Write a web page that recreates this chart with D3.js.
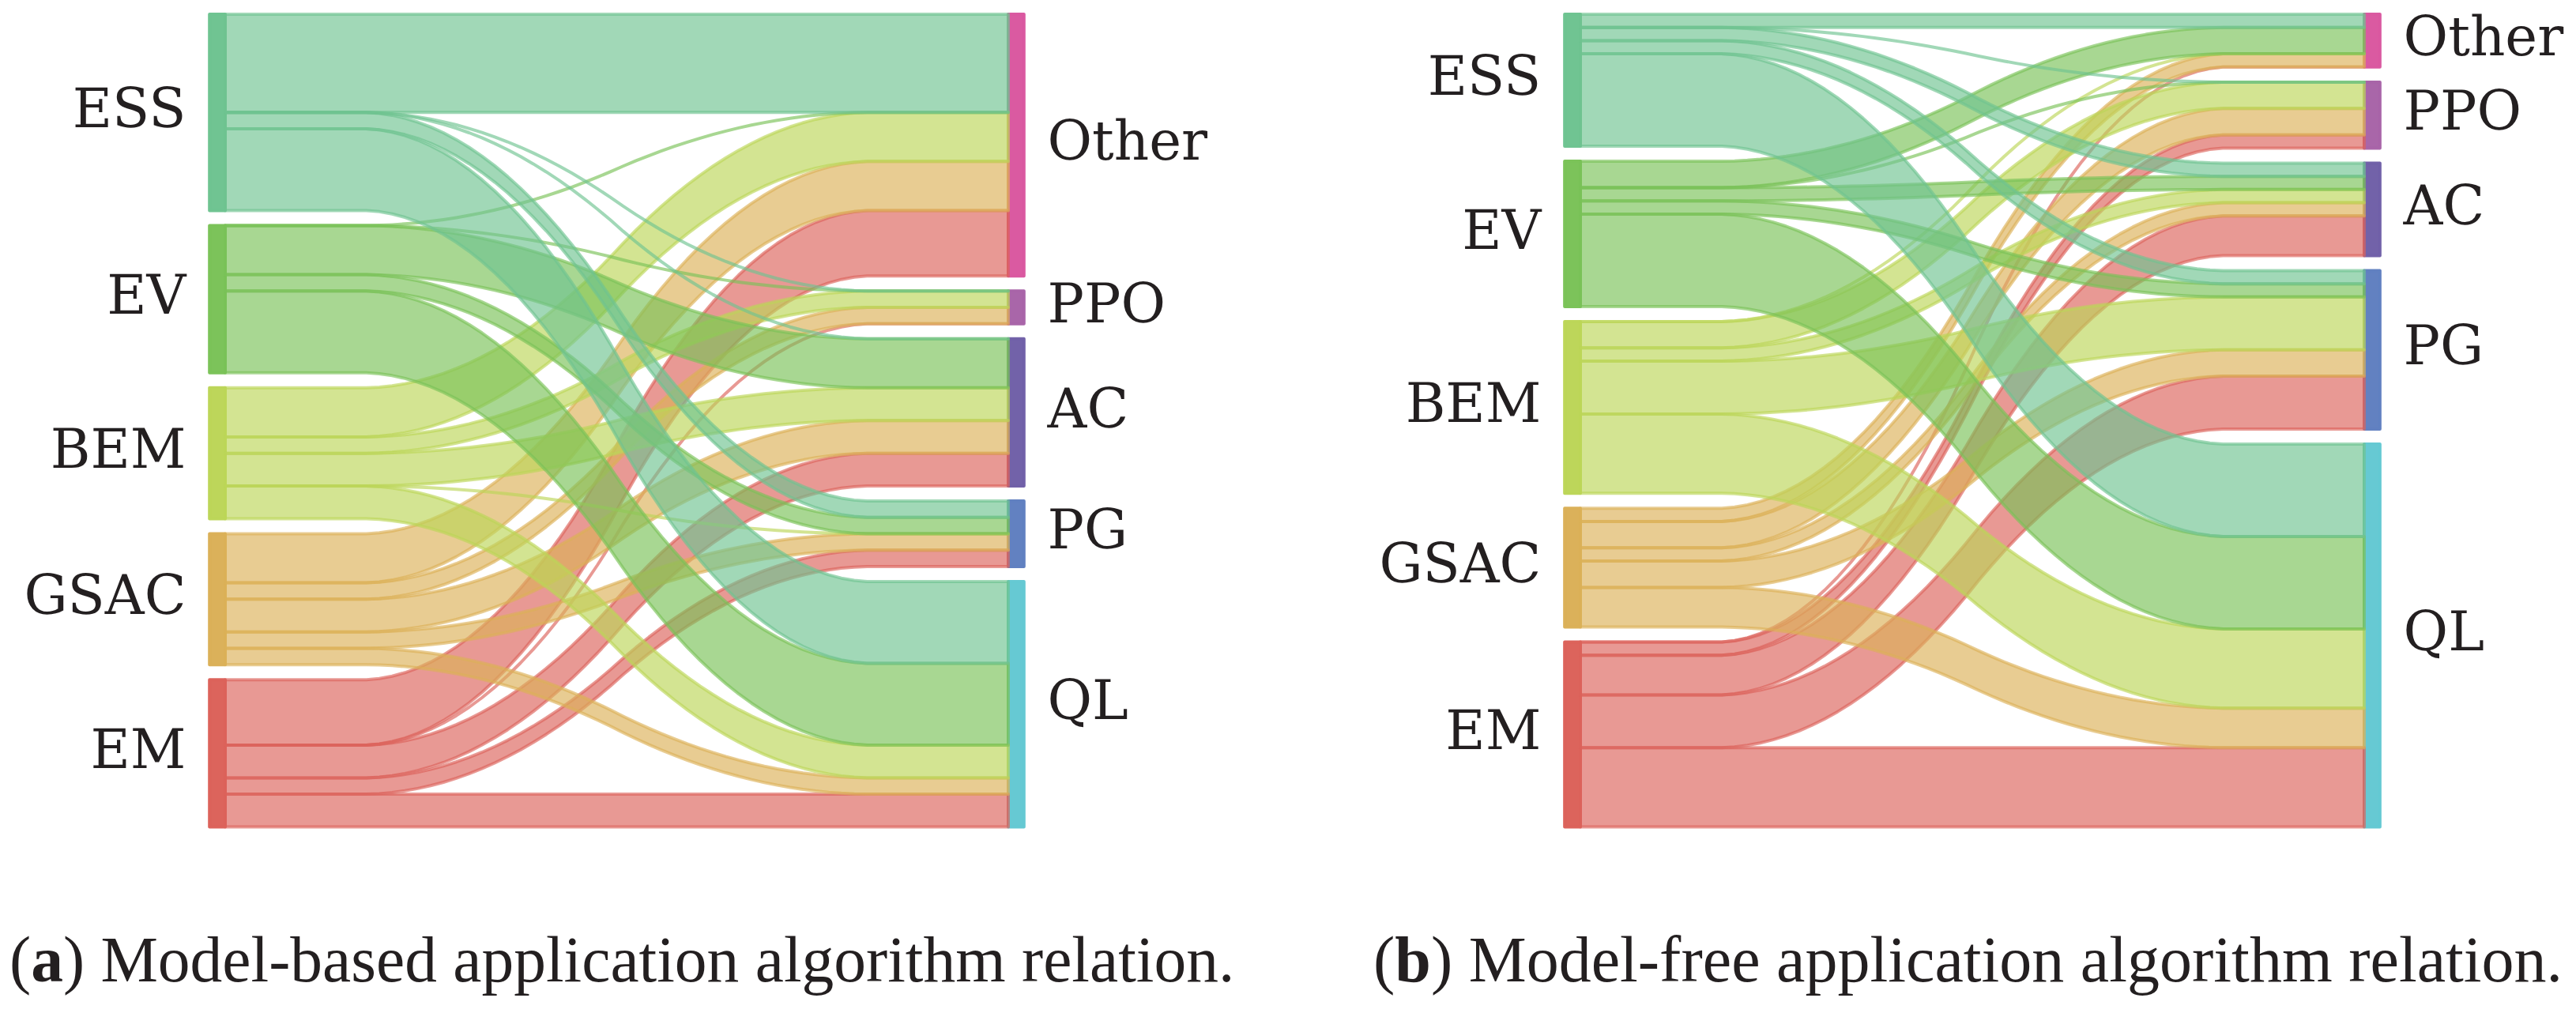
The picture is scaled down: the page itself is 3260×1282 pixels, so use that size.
<!DOCTYPE html>
<html>
<head>
<meta charset="utf-8">
<script src="https://cdn.jsdelivr.net/npm/d3@7"></script>
<style>
  body { margin: 0; background: #fff; }
  svg { display: block; }
  .label { font-family: 'DejaVu Serif', serif; font-size: 69px; fill: #231f20; }
  .caption { font-family: 'Liberation Serif', serif; font-size: 76px; fill: #231f20; }
</style>
</head>
<body>
<svg width="3260" height="1282"></svg>
<script>
const APPS = ['ESS', 'EV', 'BEM', 'GSAC', 'EM'];
const ALGOS = ['Other', 'PPO', 'AC', 'PG', 'QL'];

// rows follow APPS, columns follow ALGOS (0 = link drawn as a thin line)
const MODEL_BASED = [
    [6, 0, 0, 1, 5],
    [0, 0, 3, 1, 5],
    [3, 1, 2, 0, 2],
    [3, 1, 2, 1, 1],
    [4, 0, 2, 1, 2],
];
const MODEL_FREE = [
    [1, 0, 1, 1, 7],
    [2, 0, 1, 1, 7],
    [0, 2, 1, 4, 6],
    [1, 2, 1, 2, 3],
    [0, 1, 3, 4, 6],
];

const CAPTIONS = [
    { tag: 'a', text: ' Model-based application algorithm relation.' },
    { tag: 'b', text: ' Model-free application algorithm relation.' },
];

const APP_COLORS = ['#6ec391', '#7ac258', '#bcd658', '#dbb058', '#dc625a'];
const ALGO_COLORS = ['#da58a0', '#a864a8', '#7060a8', '#6080c0', '#64c8d2'];

const svg = d3.select('svg');

// step from left height to right height, box-smoothed twice -> flat ends, S in the middle
const step = d3.range(100).map(i => i < 50 ? 0 : 1);
const smooth = arr => d3.range(arr.length - 19).map(k => d3.mean(arr.slice(k, k + 20)));
const profile = smooth(smooth(step));

function drawSankey(values, xRange) {
    const g = svg.append('g');
    const total = d3.sum(values.flat());
    const gap = 0.02 * total;
    const y = d3.scaleLinear().domain([0, total + gap * (APPS.length - 1)]).range([1046.5, 18]);
    const x = d3.scaleLinear().domain([0, 1]).range(xRange);

    const appTot = values.map(row => d3.sum(row));
    const algoTot = ALGOS.map((_, j) => d3.sum(values, row => row[j]));

    // stacked bottom-up: last app / last algorithm sits at the bottom
    const leftOrder = d3.range(APPS.length).reverse();
    const rightOrder = d3.range(ALGOS.length).reverse();
    const leftBottom = [], rightBottom = [];
    let acc = 0;
    leftOrder.forEach(i => { leftBottom[i] = acc; acc += appTot[i] + gap; });
    acc = 0;
    rightOrder.forEach(j => { rightBottom[j] = acc; acc += algoTot[j] + gap; });

    //node bars
    const nodes = [
        ...APPS.map((name, i) => ({ name, side: 'left', bottom: leftBottom[i], size: appTot[i], color: APP_COLORS[i] })),
        ...ALGOS.map((name, j) => ({ name, side: 'right', bottom: rightBottom[j], size: algoTot[j], color: ALGO_COLORS[j] })),
    ];

    g.selectAll('.node')
        .data(nodes)
        .enter()
        .append('rect')
        .classed('node', true)
        .attr('x', d => d.side === 'left' ? x(-0.02) : x(1))
        .attr('width', x(0.02) - x(0))
        .attr('y', d => y(d.bottom + d.size))
        .attr('height', d => y(d.bottom) - y(d.bottom + d.size))
        .attr('fill', d => d.color)
        .attr('fill-opacity', 0.99)
        .attr('stroke', d => d.color)
        .attr('stroke-opacity', 0.99)
        .attr('stroke-width', 4)
        .attr('stroke-linejoin', 'round');

    //links, one strip per app/algorithm pair
    const links = [];
    const curL = leftBottom.slice(), curR = rightBottom.slice();
    leftOrder.forEach(i => {
        rightOrder.forEach(j => {
            const w = values[i][j];
            const l0 = curL[i], r0 = curR[j];
            const pts = profile.map((f, k) => ({ t: k / (profile.length - 1), lo: l0 + (r0 - l0) * f, hi: l0 + (r0 - l0) * f + w }));
            links.push({ src: i, pts });
            curL[i] += w;
            curR[j] += w;
        });
    });

    const area = d3.area()
        .x(p => x(p.t))
        .y0(p => y(p.lo))
        .y1(p => y(p.hi));

    g.selectAll('.link')
        .data(links)
        .enter()
        .append('path')
        .classed('link', true)
        .attr('d', d => area(d.pts))
        .attr('fill', d => APP_COLORS[d.src])
        .attr('fill-opacity', 0.65)
        .attr('stroke', d => APP_COLORS[d.src])
        .attr('stroke-opacity', 0.65)
        .attr('stroke-width', 4)
        .attr('stroke-linejoin', 'round');

    //labels
    g.selectAll('.label')
        .data(nodes)
        .enter()
        .append('text')
        .classed('label', true)
        .attr('x', d => d.side === 'left' ? x(-0.05) : x(1.05))
        .attr('y', d => y(d.bottom + d.size / 2) + 0.27 * 69)
        .attr('text-anchor', d => d.side === 'left' ? 'end' : 'start')
        .text(d => d.name);
}

drawSankey(MODEL_BASED, [285, 1276]);
drawSankey(MODEL_FREE, [2000, 2992]);

// captions, font size fitted to the width they take in the figure
const capPos = [{ x: 12, w: 1551 }, { x: 1738, w: 1505 }];
CAPTIONS.forEach((c, i) => {
    const t = svg.append('text')
        .classed('caption', true)
        .attr('x', capPos[i].x)
        .attr('y', 1242);
    t.append('tspan').text('(');
    t.append('tspan').attr('font-weight', 'bold').text(c.tag);
    t.append('tspan').text(')' + c.text);
    const len = t.node().getComputedTextLength();
    t.style('font-size', (76 * capPos[i].w / len).toFixed(1) + 'px');
});
</script>
</body>
</html>
